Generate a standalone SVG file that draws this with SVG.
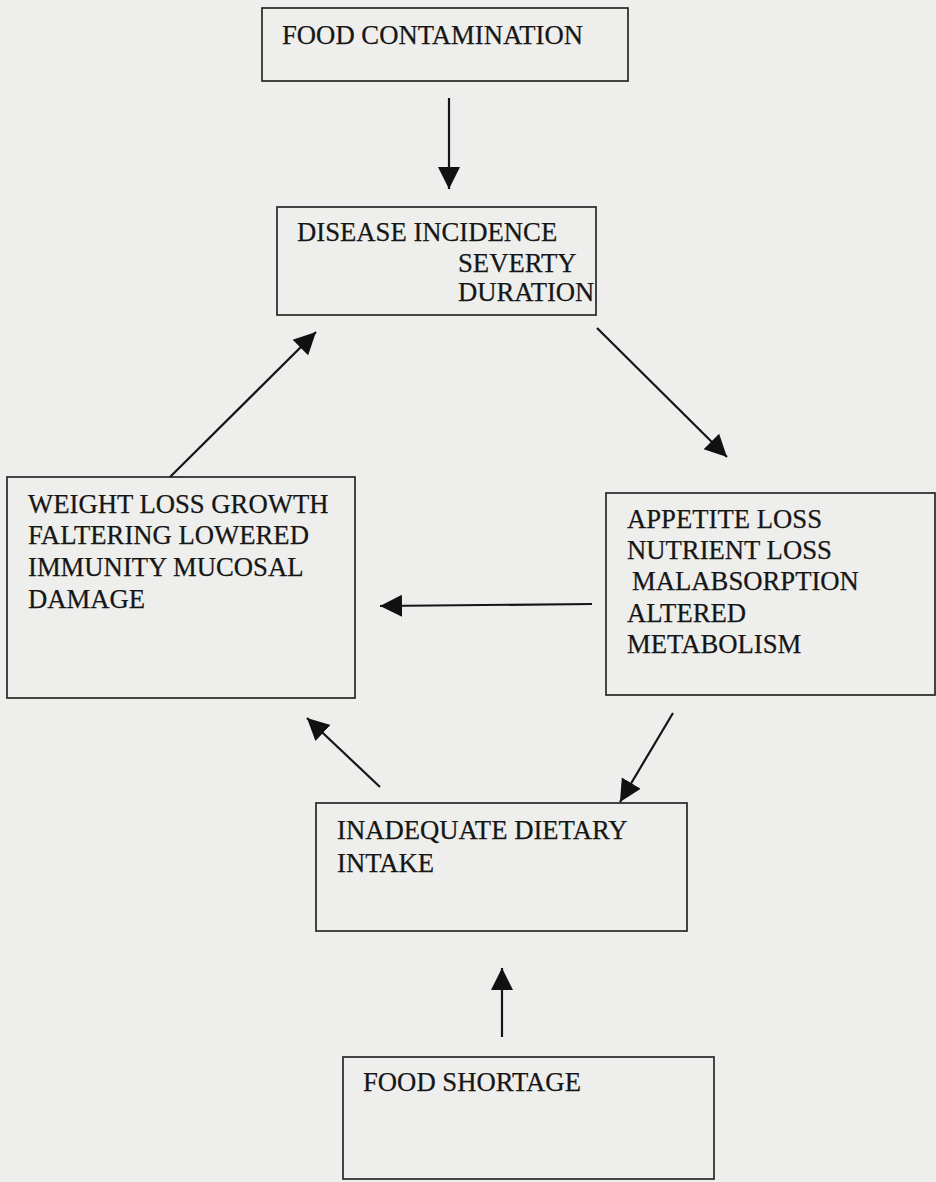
<svg xmlns="http://www.w3.org/2000/svg" width="936" height="1182" viewBox="0 0 936 1182">
<defs>
<marker id="ah" markerUnits="userSpaceOnUse" markerWidth="24" markerHeight="24" viewBox="0 0 24 24" refX="22" refY="12" orient="auto">
<path d="M0,1 L22,12 L0,23 Z" fill="#111"/>
</marker>
<style>
.box{fill:none;stroke:#262626;stroke-width:1.7}
.t{font-family:"Liberation Serif","Times New Roman",serif;font-size:26.7px;fill:#161616;stroke:#161616;stroke-width:0.25}
.c{stroke:#151515;stroke-width:2.2;fill:none;marker-end:url(#ah)}
</style>
</defs>
<rect width="936" height="1182" fill="#eeeeec"/>
<g id="food-contamination">
<rect class="box" x="262" y="8" width="366" height="73"/>
<text class="t" x="282" y="44">FOOD CONTAMINATION</text>
</g>
<g id="disease">
<rect class="box" x="277" y="207" width="319" height="108"/>
<text class="t" x="297" y="241">DISEASE INCIDENCE</text>
<text class="t" x="458" y="272">SEVERTY</text>
<text class="t" x="458" y="301">DURATION</text>
</g>
<g id="weight-loss">
<rect class="box" x="7" y="477" width="348" height="221"/>
<text class="t" x="28" y="513">WEIGHT LOSS GROWTH</text>
<text class="t" x="28" y="544">FALTERING LOWERED</text>
<text class="t" x="28" y="576">IMMUNITY MUCOSAL</text>
<text class="t" x="28" y="608">DAMAGE</text>
</g>
<g id="appetite">
<rect class="box" x="606" y="493" width="329" height="202"/>
<text class="t" x="627" y="528">APPETITE LOSS</text>
<text class="t" x="627" y="559">NUTRIENT LOSS</text>
<text class="t" x="632" y="590">MALABSORPTION</text>
<text class="t" x="627" y="622">ALTERED</text>
<text class="t" x="627" y="653">METABOLISM</text>
</g>
<g id="inadequate">
<rect class="box" x="316" y="803" width="371" height="128"/>
<text class="t" x="337" y="839">INADEQUATE DIETARY</text>
<text class="t" x="337" y="872">INTAKE</text>
</g>
<g id="food-shortage">
<rect class="box" x="343" y="1057" width="371" height="122"/>
<text class="t" x="363" y="1091">FOOD SHORTAGE</text>
</g>
<g id="connectors">
<line class="c" x1="449" y1="98" x2="449" y2="189"/>
<line class="c" x1="597" y1="328" x2="727" y2="457"/>
<line class="c" x1="592" y1="604" x2="380" y2="606"/>
<line class="c" x1="170" y1="477" x2="316" y2="332"/>
<line class="c" x1="673" y1="713" x2="620" y2="802"/>
<line class="c" x1="380" y1="787" x2="307" y2="718"/>
<line class="c" x1="502" y1="1037" x2="502" y2="968"/>
</g>
</svg>
